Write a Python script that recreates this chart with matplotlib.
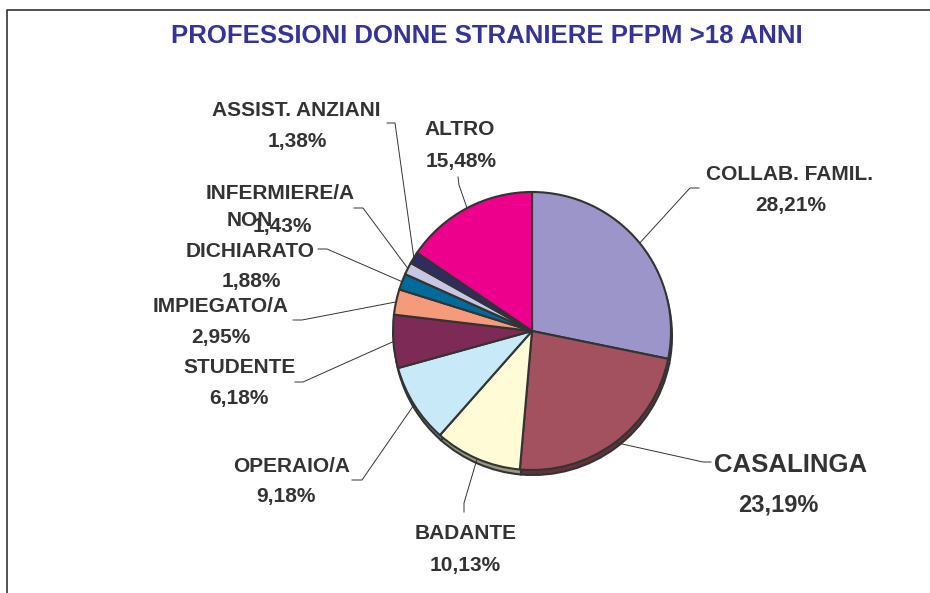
import numpy as np
import matplotlib
matplotlib.use('Agg')
import matplotlib.pyplot as plt

plt.rcParams['font.family'] = ['Liberation Sans', 'DejaVu Sans']

# dati
professioni = ['COLLAB. FAMIL.', 'CASALINGA', 'BADANTE', 'OPERAIO/A', 'STUDENTE',
               'IMPIEGATO/A', 'NON\nDICHIARATO', 'INFERMIERE/A', 'ASSIST. ANZIANI', 'ALTRO']
percentuali = [28.21, 23.19, 10.13, 9.18, 6.18, 2.95, 1.88, 1.43, 1.38, 15.48]
colori = ['#9B95C9', '#A3515F', '#FFFBD7', '#C8E9F8', '#7E2A56',
          '#F59B7B', '#006A9A', '#C9C5E4', '#2F2C62', '#EC008C']
titolo = 'PROFESSIONI DONNE STRANIERE PFPM >18 ANNI'

W, H = 930, 593
def Y(y):
    return H - y

# posizioni etichette (pixel immagine): nome x, baseline nome, pct x, baseline pct, gomito, fine linea
layout = [
    (790, 179.5, 791, 211.5, (690, 188), (699, 188)),
    (791, 471.5, 778, 511.5, (703, 462), (711, 462)),
    (466, 539, 465, 571, (464, 503), (464, 512)),
    (292, 471.7, 286, 502, (362, 480), (352, 480)),
    (240, 372.7, 239, 404.3, (303, 382), (295, 382)),
    (221, 311.7, 221, 342.5, (302, 320), (293, 320)),
    (250, 256.7, 251, 287.5, (327, 249), (318, 249)),
    (280, 199, 282, 231.7, (363, 208), (354, 208)),
    (296, 115.7, 297, 147.3, (395, 123), (387, 123)),
    (460, 135, 461, 167.3, (459, 185), (458, 177)),
]
size_nome = [15] * 10
size_pct = [15] * 10
size_nome[1] = 18.5
size_pct[1] = 17

fig = plt.figure(figsize=(W / 100, H / 100), dpi=100)
ax = fig.add_axes([0, 0, 1, 1])

cx, cy, R = 532, Y(331), 139

# ombra sotto la torta
ombra = [tuple(np.array(matplotlib.colors.to_rgb(c)) * 0.6) for c in colori]
ax.pie(percentuali, colors=ombra, startangle=90, counterclock=False,
       center=(cx + 1, cy - 5), radius=R, frame=True,
       wedgeprops=dict(edgecolor='#333333', linewidth=1.5))
wedges, _ = ax.pie(percentuali, colors=colori, startangle=90, counterclock=False,
                   center=(cx, cy), radius=R, frame=True,
                   wedgeprops=dict(edgecolor='#333333', linewidth=1.5))

testo = '#333333'
for i, w in enumerate(wedges):
    nx, nb, px, pb, elbow, end = layout[i]
    a = np.deg2rad((w.theta1 + w.theta2) / 2)
    sx, sy = cx + R * np.cos(a), cy + R * np.sin(a)
    ax.plot([sx, elbow[0], end[0]], [sy, Y(elbow[1]), Y(end[1])],
            color='#333333', lw=0.7, zorder=3)
    righe = professioni[i].split('\n')
    for k, r in enumerate(reversed(righe)):
        ax.text(nx, Y(nb - 30.5 * k), r, ha='center', va='baseline',
                fontsize=size_nome[i], fontweight='bold', color=testo, zorder=4)
    pct = f'{percentuali[i]:.2f}'.replace('.', ',') + '%'
    ax.text(px, Y(pb), pct, ha='center', va='baseline',
            fontsize=size_pct[i], fontweight='bold', color=testo, zorder=4)

ax.text(487, Y(42.7), titolo, ha='center', va='baseline', fontsize=18.5,
        fontweight='bold', color='#333399')

# cornice
ax.plot([7, 7, W], [0, Y(10), Y(10)], color='#333333', lw=1.2)

ax.set_xlim(0, W)
ax.set_ylim(0, H)
ax.set_aspect('equal')
ax.axis('off')

fig.savefig('out.png', dpi=100)
